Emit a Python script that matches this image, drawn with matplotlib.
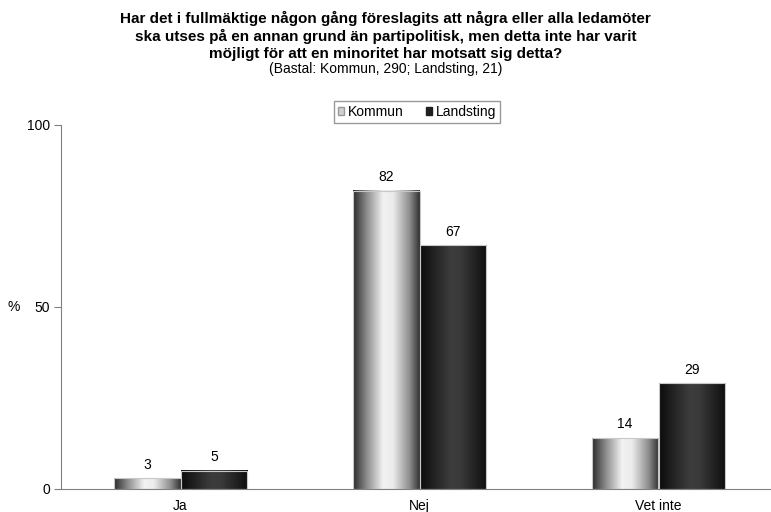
import numpy as np
import matplotlib.pyplot as plt
from matplotlib.colors import LinearSegmentedColormap
from matplotlib.patches import Patch

plt.rcParams['font.family'] = ['Liberation Sans', 'DejaVu Sans']

categories = ['Ja', 'Nej', 'Vet inte']
kommun = [3, 82, 14]
landsting = [5, 67, 29]
series_names = ['Kommun', 'Landsting']

title = ("Har det i fullmäktige någon gång föreslagits att några eller alla ledamöter\n"
         "ska utses på en annan grund än partipolitisk, men detta inte har varit\n"
         "möjligt för att en minoritet har motsatt sig detta?")
subtitle = "(Bastal: Kommun, 290; Landsting, 21)"

# horizontal "cylinder" shading
cmap_k = LinearSegmentedColormap.from_list(
    'k', [(0, '#2a2a2a'), (0.2, '#8a8a8a'), (0.45, '#f2f2f2'), (0.6, '#ebebeb'),
          (0.85, '#8c8c8c'), (1, '#303030')])
cmap_l = LinearSegmentedColormap.from_list(
    'l', [(0, '#0c0c0c'), (0.45, '#3c3c3c'), (0.6, '#3a3a3a'), (1, '#0e0e0e')])
grad = np.linspace(0, 1, 256).reshape(1, -1)

fig = plt.figure(figsize=(7.71, 5.12), dpi=100)
ax = fig.add_axes([61 / 771, 23 / 512, 717 / 771, 364 / 512])

x = np.arange(len(categories))
w = 0.28
for vals, off, cmap in [(kommun, -w / 2, cmap_k), (landsting, w / 2, cmap_l)]:
    bars = ax.bar(x + off, vals, w, color='none', edgecolor='#c8c8c8', linewidth=0.8, zorder=3)
    for b, v in zip(bars, vals):
        x0 = b.get_x()
        ax.imshow(grad, cmap=cmap, aspect='auto', extent=[x0, x0 + w, 0, v],
                  zorder=2, interpolation='bilinear')
        ax.text(x0 + w / 2, v + 1.8, str(v), ha='center', va='bottom', fontsize=10)

ax.set_xlim(-0.5, 2.5)
ax.set_ylim(0, 100)
ax.set_yticks([0, 50, 100])
ax.set_xticks(x)
ax.set_xticklabels(categories, fontsize=10)
ax.tick_params(axis='y', labelsize=10, direction='out', length=5, color='#808080', pad=3)
ax.tick_params(axis='x', length=0, pad=7)
for s in ['top', 'right']:
    ax.spines[s].set_visible(False)
ax.spines['left'].set_color('#808080')
ax.spines['bottom'].set_color('#808080')
ax.set_ylabel('%', rotation=0, fontsize=10, ha='center', va='center')
ax.yaxis.set_label_coords(-0.066, 0.5)

fig.text(0.5, 0.979, title, ha='center', va='top', fontsize=11, fontweight='bold',
         linespacing=1.26)
fig.text(0.5, 1 - 69 / 512, subtitle, ha='center', va='center', fontsize=10)

# legend
handles = [Patch(facecolor='#d0d0d0', edgecolor='#999999'),
           Patch(facecolor='#202020', edgecolor='#202020')]
fig.legend(handles, series_names, loc='center', bbox_to_anchor=(417 / 771, 1 - 112 / 512),
           ncol=2, fontsize=10, frameon=True, fancybox=False, edgecolor='#808080',
           handlelength=0.45, handleheight=0.45, handletextpad=0.25, columnspacing=1.6,
           borderpad=0.3, borderaxespad=0)

fig.savefig('out.png', dpi=100)
